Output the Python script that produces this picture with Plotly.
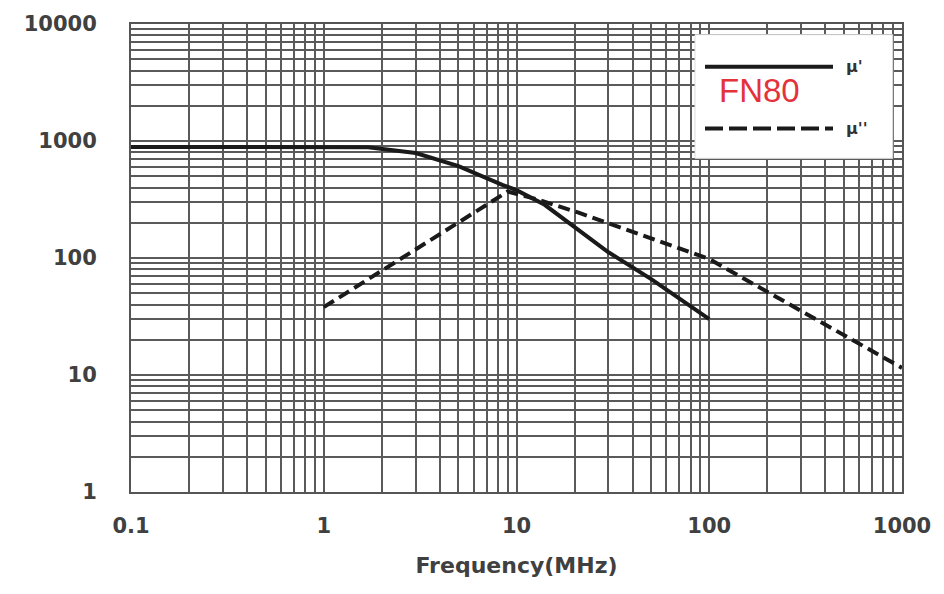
import plotly.graph_objects as go

# Data
mu1_freq = [0.1, 1, 1.7, 3, 5, 8.5, 10, 14, 30, 50, 100]
mu1_val = [890, 890, 885, 790, 610, 420, 380, 285, 112, 66, 30]

mu2_freq = [1, 9, 13, 21, 100, 1000]
mu2_val = [38, 370, 315, 244, 98, 11.5]

x_ticks = [0.1, 1, 10, 100, 1000]
x_labels = ["0.1", "1", "10", "100", "1000"]
y_ticks = [1, 10, 100, 1000, 10000]
y_labels = ["1", "10", "100", "1000", "10000"]

legend_names = ["\u03bc'", "\u03bc''"]
badge_text = "FN80"

x_minor = [m * 10 ** e for e in range(-1, 3) for m in range(2, 10)]
y_minor = [m * 10 ** e for e in range(0, 4) for m in range(2, 10)]

fig = go.Figure()
fig.add_trace(go.Scatter(x=mu1_freq, y=mu1_val, mode="lines",
                         line=dict(color="#1a1a1a", width=4), name=legend_names[0]))
fig.add_trace(go.Scatter(x=mu2_freq, y=mu2_val, mode="lines",
                         line=dict(color="#1a1a1a", width=4, dash="12px,6px"), name=legend_names[1]))

grid_c = "#5a5a5a"
font_tick = dict(family="DejaVu Sans", size=21, color="#404040", weight="bold")

fig.update_xaxes(type="log", range=[-1, 3], tickvals=x_ticks, ticktext=x_labels,
                 showgrid=True, gridcolor=grid_c, gridwidth=2,
                 minor=dict(tickvals=x_minor, showgrid=True, gridcolor=grid_c, gridwidth=2),
                 showline=True, mirror=True, linecolor="#555", linewidth=2,
                 ticks="", ticklabelstandoff=14, tickfont=font_tick,
                 title=dict(text="Frequency(MHz)", font=dict(family="DejaVu Sans", size=22, color="#404040", weight="bold"),
                            standoff=20),
                 zeroline=False)
fig.update_yaxes(type="log", range=[0, 4], tickvals=y_ticks, ticktext=y_labels,
                 showgrid=True, gridcolor=grid_c, gridwidth=2,
                 minor=dict(tickvals=y_minor, showgrid=True, gridcolor=grid_c, gridwidth=2),
                 showline=True, mirror=True, linecolor="#555", linewidth=2,
                 ticks="", ticklabelstandoff=28, tickfont=font_tick, zeroline=False)

# Legend drawn manually (long line samples as in the reference)
fig.add_shape(type="rect", xref="paper", yref="paper", x0=0.7315, x1=0.988, y0=0.713, y1=0.977,
              fillcolor="white", line=dict(color="#dddddd", width=1), layer="above")
fig.add_shape(type="line", xref="paper", yref="paper", x0=0.7445, x1=0.9105, y0=0.9085, y1=0.9085,
              line=dict(color="#1a1a1a", width=4), layer="above")
fig.add_shape(type="line", xref="paper", yref="paper", x0=0.7445, x1=0.9105, y0=0.7766, y1=0.7766,
              line=dict(color="#1a1a1a", width=4, dash="18px,6px"), layer="above")
fig.add_annotation(xref="paper", yref="paper", x=0.925, y=0.9085, text=legend_names[0],
                   showarrow=False, xanchor="left", yanchor="middle",
                   font=dict(family="DejaVu Sans", size=16, color="#333", weight="bold"))
fig.add_annotation(xref="paper", yref="paper", x=0.925, y=0.7766, text=legend_names[1],
                   showarrow=False, xanchor="left", yanchor="middle",
                   font=dict(family="DejaVu Sans", size=16, color="#333", weight="bold"))
fig.add_annotation(xref="paper", yref="paper", x=0.815, y=0.858, text=badge_text,
                   showarrow=False, xanchor="center", yanchor="middle",
                   bgcolor="white", borderpad=2,
                   font=dict(family="Liberation Sans, Arial", size=33, color="#e4323a"))

fig.update_layout(width=944, height=594, showlegend=False,
                  plot_bgcolor="white", paper_bgcolor="white",
                  margin=dict(l=131, r=42, t=22, b=102))

fig.write_html("out.html")
